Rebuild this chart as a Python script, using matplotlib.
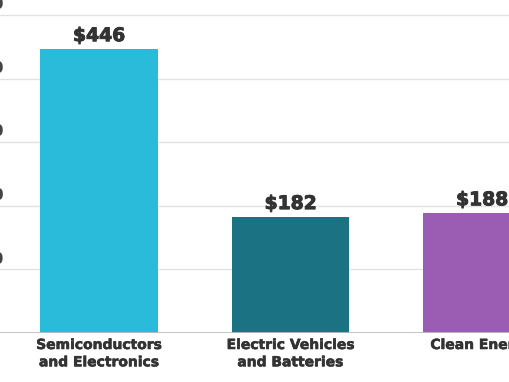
import matplotlib
matplotlib.use("Agg")
import matplotlib.pyplot as plt
import matplotlib.patheffects as pe
from matplotlib.transforms import blended_transform_factory, ScaledTranslation

categories = ["Semiconductors\nand Electronics", "Electric Vehicles\nand Batteries", "Clean Energy"]
values = [446, 182, 188]
colors = ["#29BBD9", "#1B7282", "#9B5CB4"]
yticks = [100, 200, 300, 400, 500]
ytick_labels = ["$100", "$200", "$300", "$400", "$500"]

fig = plt.figure(figsize=(5.10, 3.82), dpi=100)
ax = fig.add_axes([0, 49/382, 1, 1 - 49/382])

x = list(range(len(values)))
ax.bar(x, values, width=0.616, color=colors, zorder=3)
ax.set_xlim(-99/191.5, (510-99)/191.5)
ax.set_ylim(0, 500 + 15/0.636)

for yv in yticks:
    ax.axhline(yv, color="#e3e3e3", lw=1.0, zorder=1)
ax.axhline(0, color="#bdbdbd", lw=2.0, zorder=4)

for s in ax.spines.values():
    s.set_visible(False)
ax.set_xticks([])
ax.set_yticks([])

bold_fx = [pe.withStroke(linewidth=0.7, foreground="#333333")]

trans = blended_transform_factory(ax.transAxes, ax.transData)
for yv, lab in zip(yticks, ytick_labels):
    ax.text(4/510, yv, lab, ha="right", va="bottom", fontsize=11,
            color="#444444", family="DejaVu Sans", fontweight="bold",
            transform=trans + ScaledTranslation(0, 2/72, fig.dpi_scale_trans))

for xi, v in zip(x, values):
    ax.text(xi, v, f"${v}", ha="center", va="bottom", fontsize=13.5,
            fontweight="bold", family="DejaVu Sans", color="#333333",
            path_effects=bold_fx,
            transform=ax.transData + ScaledTranslation(0, 3/72, fig.dpi_scale_trans))

for xi, c in zip(x, categories):
    ax.text(xi, 0, c, ha="center", va="top", fontsize=10, fontweight="bold",
            family="DejaVu Sans", color="#333333", linespacing=1.3,
            path_effects=[pe.withStroke(linewidth=0.4, foreground="#333333")],
            transform=ax.transData + ScaledTranslation(0, -3.6/72, fig.dpi_scale_trans),
            clip_on=False)

fig.savefig("out.png", dpi=100)
